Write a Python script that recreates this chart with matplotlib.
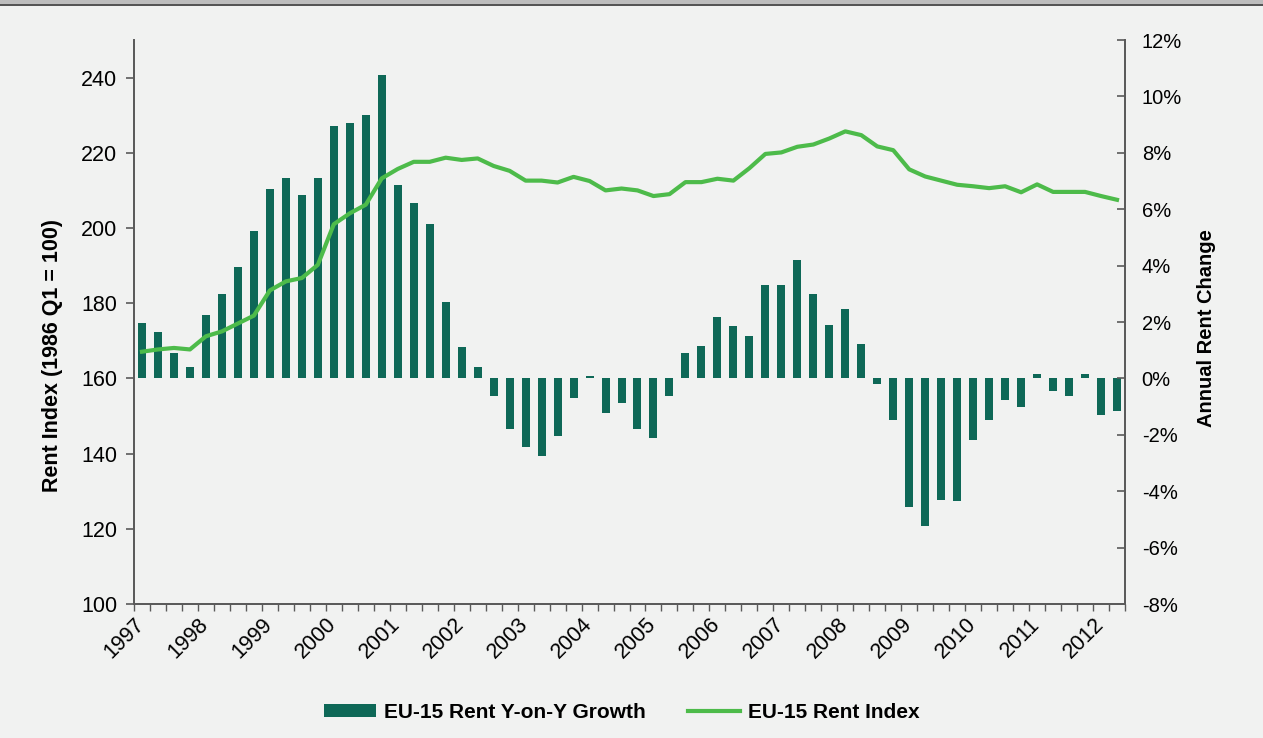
import matplotlib
matplotlib.use("Agg")
import matplotlib.pyplot as plt
from matplotlib.patches import Rectangle
from matplotlib.ticker import FixedLocator, FuncFormatter

# EU-15 quarterly data, 1997 Q1 .. 2012 Q2
years = [str(y) for y in range(1997, 2013)]

yoy_growth = [1.95, 1.63, 0.89, 0.39, 2.24, 2.98, 3.94, 5.22, 6.71, 7.10, 6.50,
              7.10, 8.95, 9.06, 9.34, 10.76, 6.86, 6.22, 5.47, 2.70, 1.10, 0.39,
              -0.63, -1.78, -2.45, -2.74, -2.06, -0.71, 0.07, -1.24, -0.89, -1.78,
              -2.13, -0.64, 0.89, 1.14, 2.17, 1.85, 1.49, 3.30, 3.30,
              4.19, 2.98, 1.88, 2.45, 1.21, -0.21, -1.46, -4.55, -5.22, -4.30,
              -4.33, -2.17, -1.46, -0.75, -1.03, 0.14, -0.43, -0.64, 0.14, -1.31, -1.17]

rent_index = [167.1, 167.7, 168.1, 167.7, 171.2, 172.5, 174.6, 176.7, 183.4, 185.8,
              186.7, 190.2, 201.0, 203.9, 206.2, 213.2, 215.7, 217.6, 217.6, 218.7,
              218.1, 218.5, 216.5, 215.2, 212.6, 212.6, 212.1, 213.6, 212.5, 210.0,
              210.5, 210.0, 208.5, 209.0, 212.2, 212.2, 213.1, 212.6, 215.9, 219.7,
              220.1, 221.6, 222.2, 223.8, 225.7, 224.7, 221.7, 220.7, 215.6, 213.7,
              212.6, 211.5, 211.1, 210.6, 211.1, 209.5, 211.6, 209.6, 209.6, 209.6,
              208.5, 207.5]

bar_color = "#0e6857"
line_color = "#4dbb4a"
bg = "#f1f2f1"
axis_col = "#5a5a5a"

plt.rcParams['font.family'] = ['Liberation Sans', 'DejaVu Sans']

fig = plt.figure(figsize=(12.63, 7.38), dpi=100, facecolor=bg)

# grey strip at the top
fig.add_artist(Rectangle((0, 1 - 5 / 738), 1, 5 / 738, transform=fig.transFigure,
                         facecolor="#bdbdbd", edgecolor="none"))
fig.add_artist(Rectangle((0, 1 - 6 / 738), 1, 2 / 738, transform=fig.transFigure,
                         facecolor="#555555", edgecolor="none"))

ax = fig.add_axes([134 / 1263, 134 / 738, 991 / 1263, 564 / 738])
ax2 = ax.twinx()

x = list(range(len(yoy_growth)))

# bars on the right (percent) axis, line on the left (index) axis
bars = ax2.bar(x, yoy_growth, width=0.5, color=bar_color, label="EU-15 Rent Y-on-Y Growth")
line, = ax.plot(x, rent_index, color=line_color, lw=3.0, solid_joinstyle="round",
                label="EU-15 Rent Index")

ax.set_zorder(ax2.get_zorder() + 1)
ax.patch.set_visible(False)
ax2.patch.set_visible(False)

ax.set_xlim(-0.5, len(x) - 0.5)
ax.set_ylim(100, 250)
ax2.set_ylim(-8, 12)

ax.set_yticks(range(100, 241, 20))
ax2.set_yticks(range(-8, 13, 2))
ax2.yaxis.set_major_formatter(FuncFormatter(lambda v, p: f"{int(v)}%"))

ax.xaxis.set_major_locator(FixedLocator([-0.5 + 4 * k for k in range(len(years))]))
ax.xaxis.set_minor_locator(FixedLocator([-0.5 + j for j in range(len(x) + 1)]))
ax.set_xticklabels(years, rotation=45, ha="right", rotation_mode="anchor", fontsize=15.5)

for a in (ax, ax2):
    for s in a.spines.values():
        s.set_color(axis_col)
        s.set_linewidth(1.3)
    a.spines["top"].set_visible(False)

ax.tick_params(axis="y", direction="out", length=6, width=1.2, color=axis_col,
               labelsize=15.5, pad=6)
ax.tick_params(axis="x", which="both", direction="out", length=5, width=1, color=axis_col,
               pad=2)
ax2.tick_params(axis="y", direction="in", length=6, width=1.2, color=axis_col,
                labelsize=14.5, pad=12)

ax.set_ylabel("Rent Index (1986 Q1 = 100)", fontsize=15.5, fontweight="bold")
ax.yaxis.set_label_coords(-71 / 991, (604 - 355) / 564)
ax2.set_ylabel("Annual Rent Change", fontsize=14.5, fontweight="bold")
ax2.yaxis.set_label_coords(1 + 72 / 991, (604 - 328) / 564)

leg = fig.legend([bars, line], ["EU-15 Rent Y-on-Y Growth", "EU-15 Rent Index"],
                 loc="center", bbox_to_anchor=(622 / 1263, 1 - 712 / 738), ncol=2,
                 frameon=False, handlelength=2.5, handleheight=0.6, handletextpad=0.4,
                 columnspacing=2.0,
                 prop={'family': ['Liberation Sans Narrow', 'Liberation Sans'],
                       'weight': 'bold', 'size': 15})

fig.savefig("out.png", dpi=100, facecolor=bg)
